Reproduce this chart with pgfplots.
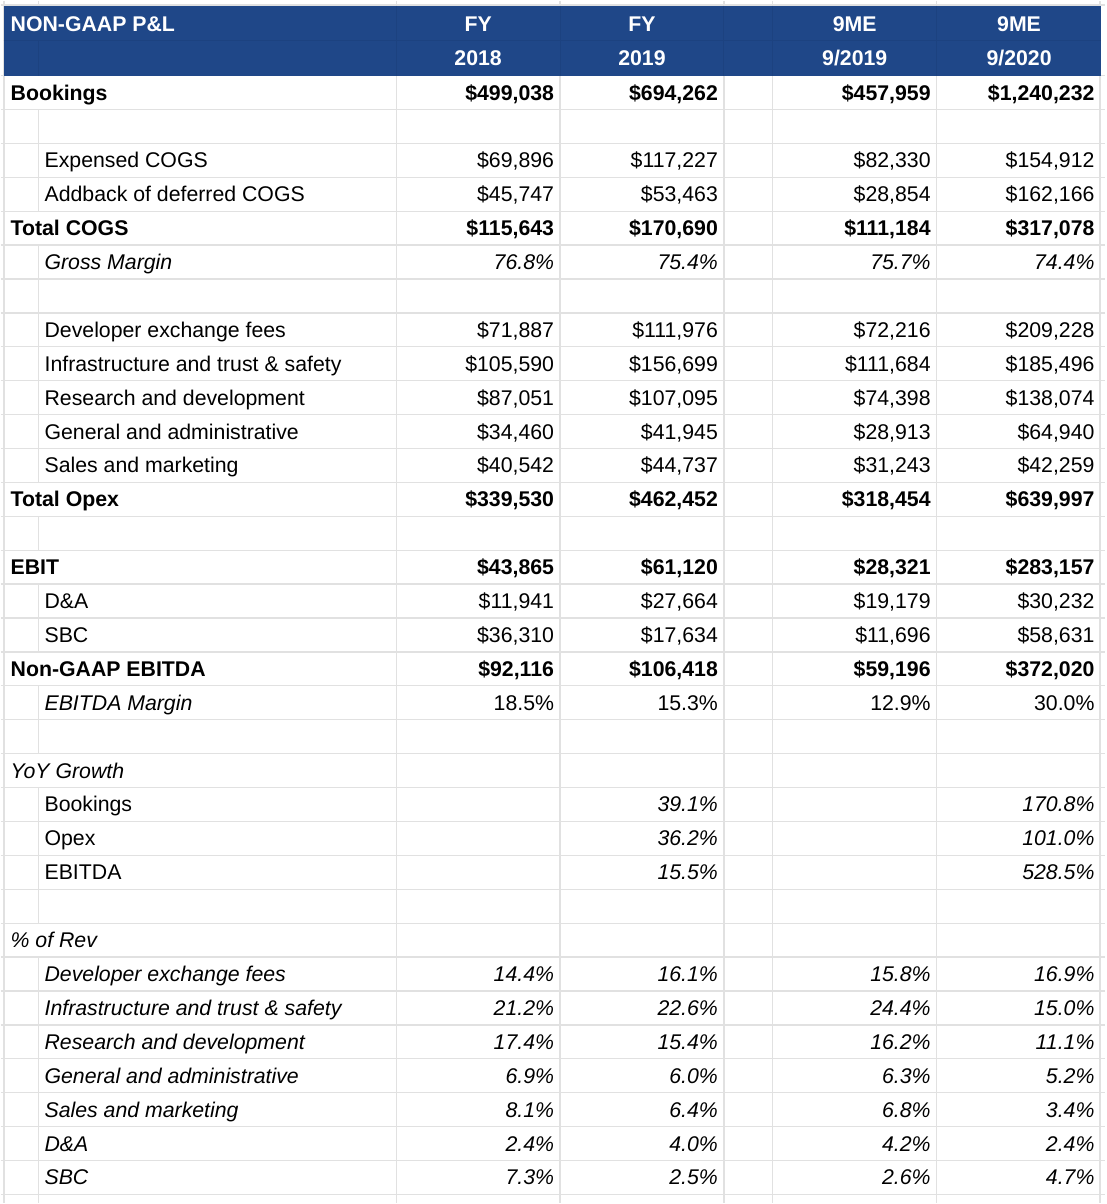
\documentclass[border=0pt]{standalone}
\usepackage{pgfplots}
\usepackage{pgfplotstable}
\pgfplotsset{compat=1.18}
\usepackage{fontspec}
\setmainfont{Liberation Sans}
\definecolor{hdrblue}{HTML}{1F4788}
\definecolor{hdrline}{HTML}{1C4280}
\definecolor{gridgray}{HTML}{E1E1E1}
\newcommand\fs{\fontsize{21.3}{25}\selectfont}
\protected\def\USD{\$}

% ---- header ----
\pgfplotstableread[col sep=semicolon]{
x;y;t
478;31;FY
642;31;FY
855;31;9ME
1019.5;31;9ME
478;65;2018
642;65;2019
855;65;9/2019
1019.5;65;9/2020
}\hdr

% ---- bold values ----
\pgfplotstableread[col sep=semicolon]{
x;y;t
554;99.5;\USD499,038
718;99.5;\USD694,262
931;99.5;\USD457,959
1095;99.5;\USD1,240,232
554;235.3;\USD115,643
718;235.3;\USD170,690
931;235.3;\USD111,184
1095;235.3;\USD317,078
554;506.8;\USD339,530
718;506.8;\USD462,452
931;506.8;\USD318,454
1095;506.8;\USD639,997
554;574.7;\USD43,865
718;574.7;\USD61,120
931;574.7;\USD28,321
1095;574.7;\USD283,157
554;676.5;\USD92,116
718;676.5;\USD106,418
931;676.5;\USD59,196
1095;676.5;\USD372,020
}\valbold

% ---- normal values ----
\pgfplotstableread[col sep=semicolon]{
x;y;t
554;167.4;\USD69,896
718;167.4;\USD117,227
931;167.4;\USD82,330
1095;167.4;\USD154,912
554;201.3;\USD45,747
718;201.3;\USD53,463
931;201.3;\USD28,854
1095;201.3;\USD162,166
554;337.1;\USD71,887
718;337.1;\USD111,976
931;337.1;\USD72,216
1095;337.1;\USD209,228
554;371.0;\USD105,590
718;371.0;\USD156,699
931;371.0;\USD111,684
1095;371.0;\USD185,496
554;405.0;\USD87,051
718;405.0;\USD107,095
931;405.0;\USD74,398
1095;405.0;\USD138,074
554;438.9;\USD34,460
718;438.9;\USD41,945
931;438.9;\USD28,913
1095;438.9;\USD64,940
554;472.8;\USD40,542
718;472.8;\USD44,737
931;472.8;\USD31,243
1095;472.8;\USD42,259
554;608.6;\USD11,941
718;608.6;\USD27,664
931;608.6;\USD19,179
1095;608.6;\USD30,232
554;642.5;\USD36,310
718;642.5;\USD17,634
931;642.5;\USD11,696
1095;642.5;\USD58,631
554;710.4;18.5\%
718;710.4;15.3\%
931;710.4;12.9\%
1095;710.4;30.0\%
}\valnorm

% ---- italic values ----
\pgfplotstableread[col sep=semicolon]{
x;y;t
554;269.2;76.8\%
718;269.2;75.4\%
931;269.2;75.7\%
1095;269.2;74.4\%
718;812.2;39.1\%
1095;812.2;170.8\%
718;846.2;36.2\%
1095;846.2;101.0\%
718;880.1;15.5\%
1095;880.1;528.5\%
554;981.9;14.4\%
718;981.9;16.1\%
931;981.9;15.8\%
1095;981.9;16.9\%
554;1015.9;21.2\%
718;1015.9;22.6\%
931;1015.9;24.4\%
1095;1015.9;15.0\%
554;1049.8;17.4\%
718;1049.8;15.4\%
931;1049.8;16.2\%
1095;1049.8;11.1\%
554;1083.8;6.9\%
718;1083.8;6.0\%
931;1083.8;6.3\%
1095;1083.8;5.2\%
554;1117.7;8.1\%
718;1117.7;6.4\%
931;1117.7;6.8\%
1095;1117.7;3.4\%
554;1151.6;2.4\%
718;1151.6;4.0\%
931;1151.6;4.2\%
1095;1151.6;2.4\%
554;1185.6;7.3\%
718;1185.6;2.5\%
931;1185.6;2.6\%
1095;1185.6;4.7\%
}\valital

% ---- labels ----
\pgfplotstableread[col sep=semicolon]{
x;y;t
10;99.5;Bookings
10;235.3;Total COGS
10;506.8;Total Opex
10;574.7;EBIT
10;676.5;Non-GAAP EBITDA
}\labbold

\pgfplotstableread[col sep=semicolon]{
x;y;t
44;167.4;Expensed COGS
44;201.3;Addback of deferred COGS
44;337.1;Developer exchange fees
44;371.0;Infrastructure and trust \& safety
44;405.0;Research and development
44;438.9;General and administrative
44;472.8;Sales and marketing
44;608.6;D\&A
44;642.5;SBC
44;812.2;Bookings
44;846.2;Opex
44;880.1;EBITDA
}\labnorm

\pgfplotstableread[col sep=semicolon]{
x;y;t
44;269.2;Gross Margin
44;710.4;EBITDA Margin
10;778.3;YoY Growth
10;948.0;\% of Rev
44;981.9;Developer exchange fees
44;1015.9;Infrastructure and trust \& safety
44;1049.8;Research and development
44;1083.8;General and administrative
44;1117.7;Sales and marketing
44;1151.6;D\&A
44;1185.6;SBC
}\labital

\pgfplotsset{
  cell/.style={black, draw=none, mark=none, point meta=explicit symbolic,
    nodes near coords,
    every node near coord/.append style={inner sep=0pt, outer sep=0pt, text=black}},
}

\begin{document}
\begin{tikzpicture}
\begin{axis}[
  scale only axis, width=1106pt, height=1204pt,
  xmin=0, xmax=1106, ymin=0, ymax=1204, y dir=reverse,
  hide axis, clip=false]
% background
\fill[white] (axis cs:0,0) rectangle (axis cs:1106,1204);
% horizontal grid lines
\draw[gridgray, line width=1.3pt] (axis cs:0,4.5) -- (axis cs:1106,4.5);
\pgfplotsinvokeforeach{0,...,33}{
  \draw[gridgray, line width=1.3pt] (axis cs:0,{75+33.94*#1}) -- (axis cs:1106,{75+33.94*#1});
}
% vertical grid lines
\pgfplotsinvokeforeach{3.5,396,560,724,773,937,1100.5}{
  \draw[gridgray, line width=1.3pt] (axis cs:#1,0) -- (axis cs:#1,1204);
}
\draw[gridgray, line width=1.3pt] (axis cs:38,0) -- (axis cs:38,5);
\draw[gridgray, line width=1.3pt] (axis cs:38,108.94) -- (axis cs:38,210.76);
\draw[gridgray, line width=1.3pt] (axis cs:38,244.7) -- (axis cs:38,482.28);
\draw[gridgray, line width=1.3pt] (axis cs:38,516.22) -- (axis cs:38,550.16);
\draw[gridgray, line width=1.3pt] (axis cs:38,584.1) -- (axis cs:38,651.98);
\draw[gridgray, line width=1.3pt] (axis cs:38,685.92) -- (axis cs:38,753.8);
\draw[gridgray, line width=1.3pt] (axis cs:38,787.74) -- (axis cs:38,923.5);
\draw[gridgray, line width=1.3pt] (axis cs:38,957.44) -- (axis cs:38,1204);
% header block
\fill[hdrblue] (axis cs:3,5) rectangle (axis cs:1101.5,75);
\draw[hdrline, line width=0.8pt] (axis cs:3,40) -- (axis cs:1101.5,40);
\draw[hdrline, line width=0.8pt] (axis cs:38,40) -- (axis cs:38,75);
\pgfplotsinvokeforeach{396,560,724,773,937}{
  \draw[hdrline, line width=0.8pt] (axis cs:#1,5) -- (axis cs:#1,75);
}
% header text
\addplot[cell, every node near coord/.append style={anchor=base west, text=white, font=\fs\bfseries}]
  coordinates {(10,31)[NON-GAAP P\&L]};
\addplot[cell, every node near coord/.append style={anchor=base, text=white, font=\fs\bfseries}]
  table[x=x, y=y, meta=t] {\hdr};
% labels
\addplot[cell, every node near coord/.append style={anchor=base west, font=\fs\bfseries}]
  table[x=x, y=y, meta=t] {\labbold};
\addplot[cell, every node near coord/.append style={anchor=base west, font=\fs}]
  table[x=x, y=y, meta=t] {\labnorm};
\addplot[cell, every node near coord/.append style={anchor=base west, font=\fs\itshape}]
  table[x=x, y=y, meta=t] {\labital};
% values
\addplot[cell, every node near coord/.append style={anchor=base east, font=\fs\bfseries}]
  table[x=x, y=y, meta=t] {\valbold};
\addplot[cell, every node near coord/.append style={anchor=base east, font=\fs}]
  table[x=x, y=y, meta=t] {\valnorm};
\addplot[cell, every node near coord/.append style={anchor=base east, font=\fs\itshape}]
  table[x=x, y=y, meta=t] {\valital};
\end{axis}
\end{tikzpicture}
\end{document}
